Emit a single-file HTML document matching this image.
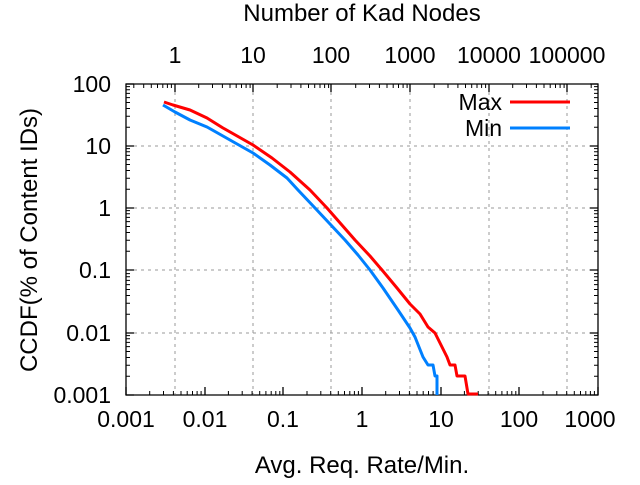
<!DOCTYPE html>
<html><head><meta charset="utf-8"><style>
body{margin:0;background:#fff}
svg text{font-family:"Liberation Sans",sans-serif;font-size:23px;fill:#000}
svg text.t{font-size:24px}
</style></head><body>
<svg width="640" height="480" xmlns="http://www.w3.org/2000/svg">
<defs>
<clipPath id="c"><rect x="126" y="84" width="472" height="311"/></clipPath>
<path id="xb" d="M23.7,0v-4M37.5,0v-4M47.4,0v-4M55,0v-4M61.2,0v-4M66.5,0v-4M71.1,0v-4M75.1,0v-4" stroke="#000" stroke-width="1"/>
<path id="xt" d="M23.7,0v4M37.5,0v4M47.4,0v4M55,0v4M61.2,0v4M66.5,0v4M71.1,0v4M75.1,0v4" stroke="#000" stroke-width="1"/>
<path id="yd" d="M0,-18.7h4M0,-29.7h4M0,-37.5h4M0,-43.5h4M0,-48.4h4M0,-52.6h4M0,-56.2h4M0,-59.4h4M472,-18.7h-4M472,-29.7h-4M472,-37.5h-4M472,-43.5h-4M472,-48.4h-4M472,-52.6h-4M472,-56.2h-4M472,-59.4h-4" stroke="#000" stroke-width="1"/>
</defs>
<g stroke="#999" stroke-width="1" stroke-dasharray="3,4">
<line x1="175" y1="85" x2="175" y2="394"/><line x1="253" y1="85" x2="253" y2="394"/>
<line x1="331" y1="85" x2="331" y2="394"/><line x1="410" y1="85" x2="410" y2="394"/>
<line x1="489" y1="85" x2="489" y2="394"/><line x1="567" y1="85" x2="567" y2="394"/>
<line x1="127" y1="146" x2="597" y2="146"/><line x1="127" y1="208" x2="597" y2="208"/>
<line x1="127" y1="270" x2="597" y2="270"/><line x1="127" y1="333" x2="597" y2="333"/>
</g>
<g clip-path="url(#c)">
<use href="#xb" transform="translate(126,395)"/><use href="#xb" transform="translate(204.7,395)"/>
<use href="#xb" transform="translate(283.3,395)"/><use href="#xb" transform="translate(362,395)"/>
<use href="#xb" transform="translate(440.7,395)"/><use href="#xb" transform="translate(519.3,395)"/>
<use href="#xt" transform="translate(96.3,84)"/><use href="#xt" transform="translate(175,84)"/>
<use href="#xt" transform="translate(253.5,84)"/><use href="#xt" transform="translate(332,84)"/>
<use href="#xt" transform="translate(410.5,84)"/><use href="#xt" transform="translate(489,84)"/>
<use href="#xt" transform="translate(567.5,84)"/>
<use href="#yd" transform="translate(126,395)"/><use href="#yd" transform="translate(126,333)"/>
<use href="#yd" transform="translate(126,270)"/><use href="#yd" transform="translate(126,208)"/>
<use href="#yd" transform="translate(126,146)"/>
</g>
<g stroke="#000" stroke-width="1.3">
<path d="M126,395V84H598V395Z" fill="none"/>
<path d="M126,84h8M126,146h8M126,208h8M126,270h8M126,333h8M126,395h8M598,84h-8M598,146h-8M598,208h-8M598,270h-8M598,333h-8M598,395h-8"/>
<path d="M126,395v-8M205,395v-8M283,395v-8M362,395v-8M441,395v-8M519,395v-8M598,395v-8"/>
<path d="M175,84v8M253,84v8M331,84v8M410,84v8M489,84v8M567,84v8"/>
</g>
<polyline fill="none" stroke="#ff0000" stroke-width="3" stroke-linejoin="round" points="164,102 173,105 190,110 207,118 223,128 253,145 272,158 290,172 310,190 327,208 341,224 355,240 370,256 382,270 397,288 410,304 420,314 428,327 435,333 440,343 447,357 450,365 455,365 457,376 465,376 468,394 478,394"/>
<polyline fill="none" stroke="#0080ff" stroke-width="3" stroke-linejoin="round" points="163,105 175,112 190,120 207,127 230,140 253,153 270,165 287,178 298,190 315,208 330,224 345,240 358,255 370,270 383,288 398,310 410,328 415,337 423,357 428,365 433,365 435,376 437,376 437,395"/>
<line x1="510" y1="102" x2="570" y2="102" stroke="#ff0000" stroke-width="3"/>
<line x1="510" y1="128" x2="570" y2="128" stroke="#0080ff" stroke-width="3"/>
<text x="502" y="110" text-anchor="end">Max</text>
<text x="502" y="136" text-anchor="end">Min</text>
<g text-anchor="end">
<text x="111" y="92">100</text><text x="111" y="154">10</text><text x="111" y="216">1</text>
<text x="111" y="278">0.1</text><text x="111" y="341">0.01</text><text x="111" y="403">0.001</text>
</g>
<g text-anchor="middle">
<text x="126" y="427">0.001</text><text x="205" y="427">0.01</text><text x="283" y="427">0.1</text>
<text x="362" y="427">1</text><text x="441" y="427">10</text><text x="519" y="427">100</text><text x="590" y="427">1000</text>
<text x="175" y="63">1</text><text x="253" y="63">10</text><text x="331" y="63">100</text>
<text x="410" y="63">1000</text><text x="489" y="63">10000</text><text x="567" y="63">100000</text>
<text class="t" x="362" y="473">Avg. Req. Rate/Min.</text>
<text class="t" x="362" y="21">Number of Kad Nodes</text>
<text class="t" transform="translate(37,240) rotate(-90)">CCDF(% of Content IDs)</text>
</g>
</svg>
</body></html>
